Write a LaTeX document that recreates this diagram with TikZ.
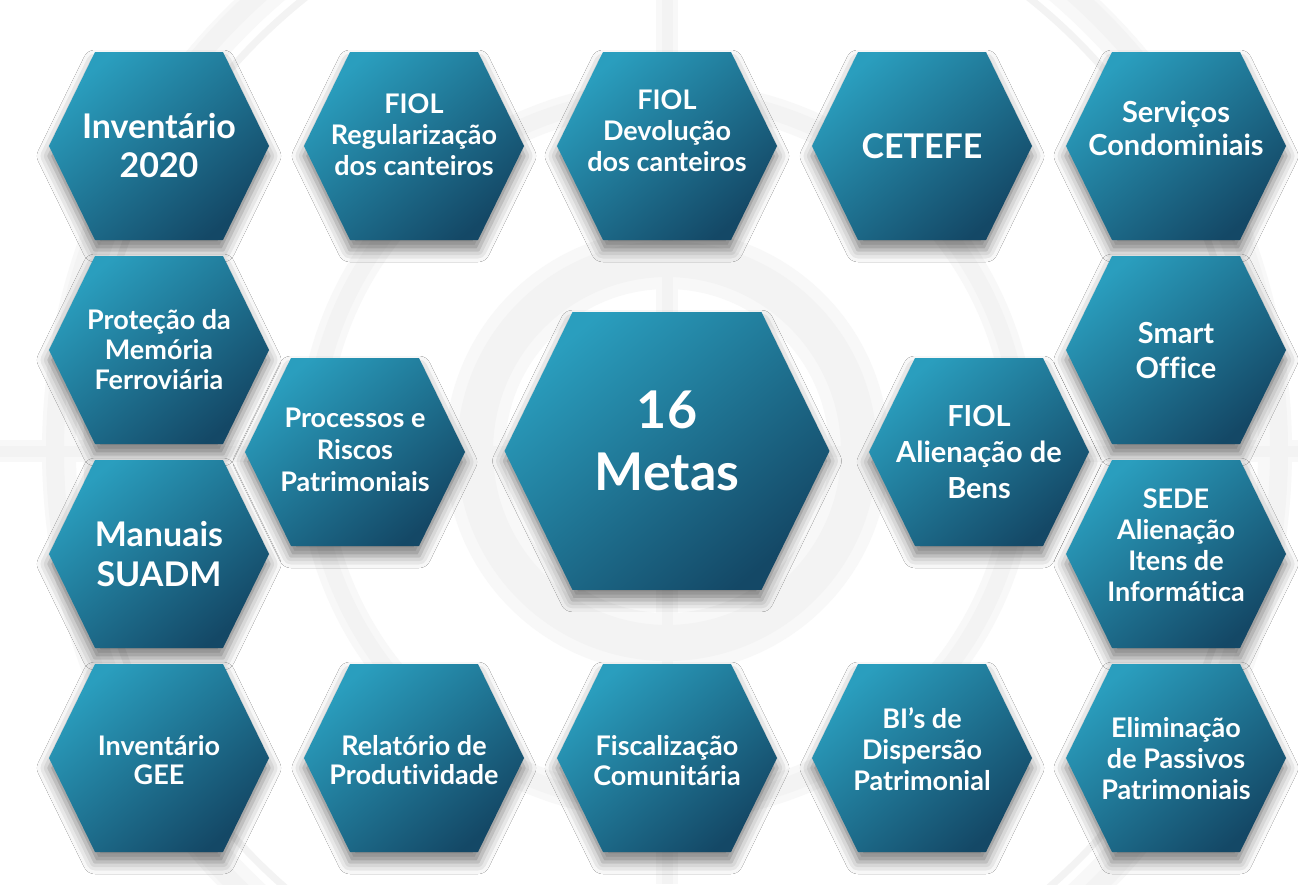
\documentclass[tikz,border=0pt]{standalone}
\usepackage{fontspec}
\setmainfont{Lato}[RawFeature=-liga]
\usetikzlibrary{shadows.blur}
\definecolor{hexlight}{RGB}{42,158,190}
\definecolor{hexmid}{RGB}{31,122,153}
\definecolor{hexdark}{RGB}{20,72,102}
\definecolor{ringgray}{RGB}{243,243,243}
\definecolor{ringsoft}{RGB}{248,248,248}
\tikzset{
  hexfill/.style={shading=axis, top color=hexlight, middle color=hexmid, bottom color=hexdark, shading angle=40,
    blur shadow={shadow xshift=0pt, shadow yshift=-10pt, shadow blur radius=12pt, shadow opacity=50}},
  hextext/.style={text=white, align=center, inner sep=0pt},
  ringband/.style={draw=ringgray, line width=#1},
  ringhalo/.style={draw=ringsoft, line width=#1},
}
\newcommand\mhex[7]{%
  \begin{scope}[shift={(#2,#3)}]
    \path[hexfill] (-110,0) -- (-64,-94) -- (64,-94) -- (110,0) -- (64,94) -- (-64,94) -- cycle;
  \end{scope}
  \node[hextext, font=\fontsize{#5}{#6}\selectfont\bfseries] (#1) at (#2,#4) {#7};
}
\begin{document}
\begin{tikzpicture}[x=1pt,y=-1pt]
  \fill[white] (0,0) rectangle (1298,884);
  \useasboundingbox (0,0) rectangle (1298,884);
  \coordinate (ctr) at (667,451);
  % background decoration
  \begin{scope}
    \clip (0,0) rectangle (1298,884);
    \draw[ringhalo=22] (667,0) -- (667,884);
    \draw[ringhalo=22] (0,451) -- (1298,451);
    \draw[ringhalo=30] (ctr) circle (355);
    \draw[ringhalo=34] (ctr) circle (608);
    \draw[ringhalo=60] (ctr) circle (192);
    \draw[ringband=11] (667,0) -- (667,884);
    \draw[ringband=11] (0,451) -- (1298,451);
    \draw[ringband=16] (ctr) circle (355);
    \draw[ringband=18] (ctr) circle (612);
    \draw[ringband=7] (ctr) circle (580);
    \draw[ringband=36] (ctr) circle (192);
  \end{scope}
  % hexagons
  \mhex{inv}{159}{146}{146}{34}{39}{Inventário\\2020}
  \mhex{fiolreg}{414}{146}{135}{27}{31}{FIOL\\Regularização\\dos canteiros}
  \mhex{fioldev}{667}{146}{131}{27}{31}{FIOL\\Devolução\\dos canteiros}
  \mhex{cetefe}{922}{146}{146}{34}{39}{CETEFE}
  \mhex{serv}{1176}{146}{128}{29}{33}{Serviços\\Condominiais}
  \mhex{prot}{159}{350}{350}{27}{30}{Proteção da\\Memória\\Ferroviária}
  \mhex{smart}{1176}{350}{351}{29}{35}{Smart\\Office}
  \mhex{proc}{355}{452}{450}{27}{32}{Processos e\\Riscos\\Patrimoniais}
  \mhex{alien}{979}{452}{452}{29}{36}{FIOL\\Alienação de\\Bens}
  \mhex{man}{159}{554}{554}{34}{40}{Manuais\\SUADM}
  \mhex{sede}{1176}{554}{545}{27}{31}{SEDE\\Alienação\\Itens de\\Informática}
  \mhex{gee}{159}{758}{760}{27}{29}{Inventário\\GEE}
  \mhex{rel}{414}{758}{760}{27}{29}{Relatório de\\Produtividade}
  \mhex{fisc}{667}{758}{761}{27}{30}{Fiscalização\\Comunitária}
  \mhex{bis}{922}{758}{749}{27}{31}{BI’s de\\Dispersão\\Patrimonial}
  \mhex{elim}{1176}{758}{759}{27}{31}{Eliminação\\de Passivos\\Patrimoniais}
  % central hexagon
  \begin{scope}[shift={(667,451)}, scale=1.477]
    \path[hexfill] (-110,0) -- (-64,-94) -- (64,-94) -- (110,0) -- (64,94) -- (-64,94) -- cycle;
  \end{scope}
  \node[hextext, font=\fontsize{52}{62}\selectfont\bfseries] (metas) at (667,441) {16\\Metas};
\end{tikzpicture}
\end{document}
